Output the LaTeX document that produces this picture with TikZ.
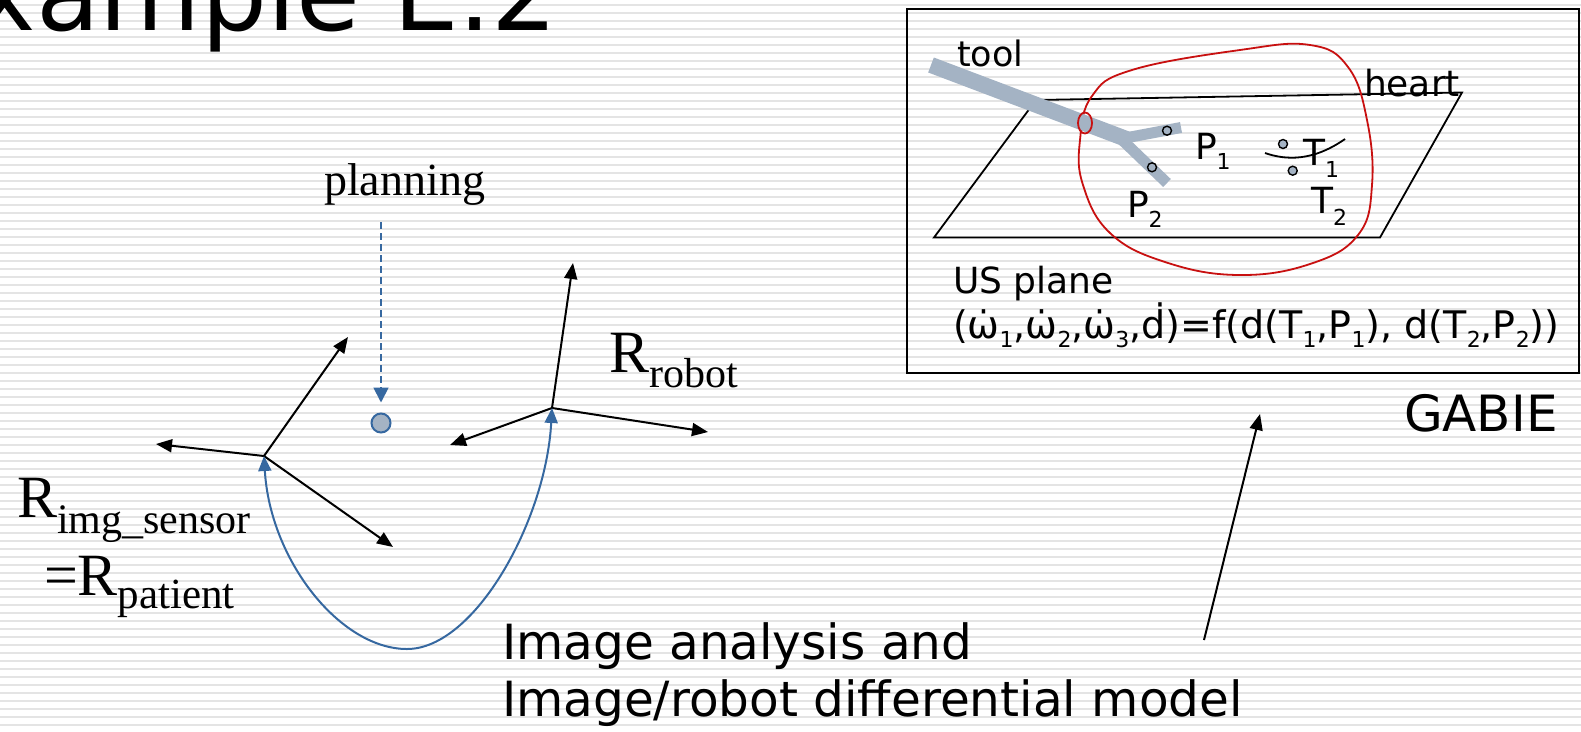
\documentclass[tikz,border=0pt]{standalone}
\usepackage{fontspec}
\usepackage{graphicx}
\setmainfont{Liberation Serif}
\newfontfamily\sansfam{DejaVu Sans}
\usetikzlibrary{arrows.meta}

\definecolor{stripe}{RGB}{228,228,228}
\definecolor{flowblue}{RGB}{54,104,160}
\definecolor{toolgray}{RGB}{164,179,196}
\definecolor{heartred}{RGB}{200,16,16}

% font size in points and a lowered, smaller subscript
\newcommand\fsz[1]{\fontsize{#1}{#1}\selectfont}
\newcommand\lowsub[3]{\raisebox{-#1pt}{\fsz{#2}#3}}

\begin{document}
\begin{tikzpicture}[x=1pt,y=-1pt,
  txt/.style={inner sep=0pt, outer sep=0pt},
  axis/.style={line width=2pt, -{Triangle[length=16pt,width=13pt]}},
  bluelink/.style={flowblue, line width=2pt, {Triangle[length=15pt,width=13pt]}-{Triangle[length=15pt,width=13pt]}},
  planlink/.style={flowblue, line width=1.8pt, dash pattern=on 7pt off 4pt, -{Triangle[length=15pt,width=15pt]}},
  goalmark/.style={circle, draw=flowblue, line width=2pt, fill=toolgray, minimum size=19pt, inner sep=0pt},
  pindot/.style={circle, draw=black, line width=1.4pt, fill=toolgray, minimum size=9pt, inner sep=0pt},
  thinline/.style={line width=1.8pt, line join=miter},
]
\useasboundingbox (0,0) rectangle (1581,731);
\clip (0,0) rectangle (1581,731);

% striped backdrop
\fill[white] (0,0) rectangle (1581,731);
\foreach \k in {0,...,91} \fill[stripe] (0,4+8*\k) rectangle (1581,6.2+8*\k);

% title
\node[txt, anchor=base east] (title) at (558,30) {\sansfam\fsz{104}Example E.2};

% planning input
\node[txt, anchor=base west] (plan) at (324,195) {\fsz{46}planning};
\coordinate (planstart) at (381,222);
\node[goalmark] (goal) at (381,423) {};
\draw[planlink, shorten >=10pt] (planstart) -- (goal);

% patient / image sensor frame
\coordinate (oL) at (264,456);
\coordinate (aL1) at (348,337);
\coordinate (aL2) at (156,444);
\coordinate (aL3) at (393,547);
\draw[axis] (oL) -- (aL1);
\draw[axis] (oL) -- (aL2);
\draw[axis] (oL) -- (aL3);

% robot frame
\coordinate (oR) at (552,408);
\coordinate (aR1) at (573,263);
\coordinate (aR2) at (450,445);
\coordinate (aR3) at (708,432);
\draw[axis] (oR) -- (aR1);
\draw[axis] (oR) -- (aR2);
\draw[axis] (oR) -- (aR3);

% frame labels
\node[txt, anchor=base west] (rrobot) at (609,372) {\fsz{60}R\lowsub{15}{42}{robot}};
\node[txt, anchor=base west] (rimg) at (17,517) {\fsz{60}R\lowsub{16}{42}{img\_sensor}};
\node[txt, anchor=base west] (rpat) at (44,595) {\fsz{60}=R\lowsub{13}{43}{patient}};

% image analysis loop between the frames
\coordinate (loopbottom) at (407,649);
\draw[bluelink] (oL) .. controls (270,560) and (340,649) .. (loopbottom)
                     .. controls (475,649) and (546,520) .. (oR);

\node[txt, anchor=base west] (ia1) at (502,659) {\sansfam\fsz{48.5}Image analysis and};
\node[txt, anchor=base west] (ia2) at (502,716) {\sansfam\fsz{48.5}Image/robot differential model};

% pointer to the GABIE panel
\coordinate (ptail) at (1204,640);
\coordinate (phead) at (1260,414);
\draw[axis] (ptail) -- (phead);
\node[txt, anchor=base west] (gabie) at (1404,431) {\sansfam\fsz{50}GABIE};

% GABIE panel
\node[draw, line width=2pt, anchor=north west, minimum width=672pt, minimum height=364pt, inner sep=0pt] (panel) at (906,7.5) {};

% US plane
\draw[thinline] (1036,100) -- (1462,92.5) -- (1380,237.5) -- (934,237.5) -- cycle;

% heart contour
\draw[heartred, line width=1.8pt] plot[smooth cycle, tension=0.7] coordinates {
  (1080,140) (1092,96) (1132,70) (1240,50) (1310,45) (1348,67) (1367,120)
  (1372,185) (1358,235) (1310,264) (1238,275) (1165,262) (1110,233) (1083,185)};

% tool
\draw[toolgray, line width=16pt] (931,65) -- (1128,139.6);
\draw[toolgray, line width=11pt] (1120,139) -- (1181,127.5);
\draw[toolgray, line width=11pt] (1118,136) -- (1167,183);
\draw[heartred, line width=1.8pt] (1085,123) ellipse [x radius=7, y radius=10.5];

\node[pindot] (p1dot) at (1167,130.7) {};
\node[pindot] (p2dot) at (1152,167.3) {};
\node[pindot] (t1dot) at (1283,144) {};
\node[pindot] (t2dot) at (1292.7,170.7) {};

% target curve
\draw[line width=1.8pt] (1265,153) .. controls (1285,160) and (1312,162) .. (1345,139);

% panel labels
\node[txt, anchor=base west] (tool) at (957,66) {\sansfam\fsz{35}tool};
\node[txt, anchor=base west] (heart) at (1364,96) {\sansfam\fsz{36}heart};
\node[txt, anchor=base west] (P1) at (1195,159) {\sansfam\fsz{36}P\lowsub{10}{22}{1}};
\node[txt, anchor=base west] (P2) at (1127,217) {\sansfam\fsz{36}P\lowsub{10}{22}{2}};
\node[txt, anchor=base west] (T1) at (1303,165) {\sansfam\fsz{36}T\lowsub{12}{22}{1}};
\node[txt, anchor=base west] (T2) at (1311,213) {\sansfam\fsz{36}T\lowsub{12}{22}{2}};
\node[txt, anchor=base west] (usplane) at (953,293) {\sansfam\fsz{36}US plane};
\node[txt, anchor=base west] (eqn) at (953,338) {\sansfam\fsz{38}(ω̇\lowsub{9}{22}{1},ω̇\lowsub{9}{22}{2},ω̇\lowsub{9}{22}{3},ḋ)=f(d(T\lowsub{9}{22}{1},P\lowsub{9}{22}{1}), d(T\lowsub{9}{22}{2},P\lowsub{9}{22}{2}))};

\end{tikzpicture}
\end{document}
